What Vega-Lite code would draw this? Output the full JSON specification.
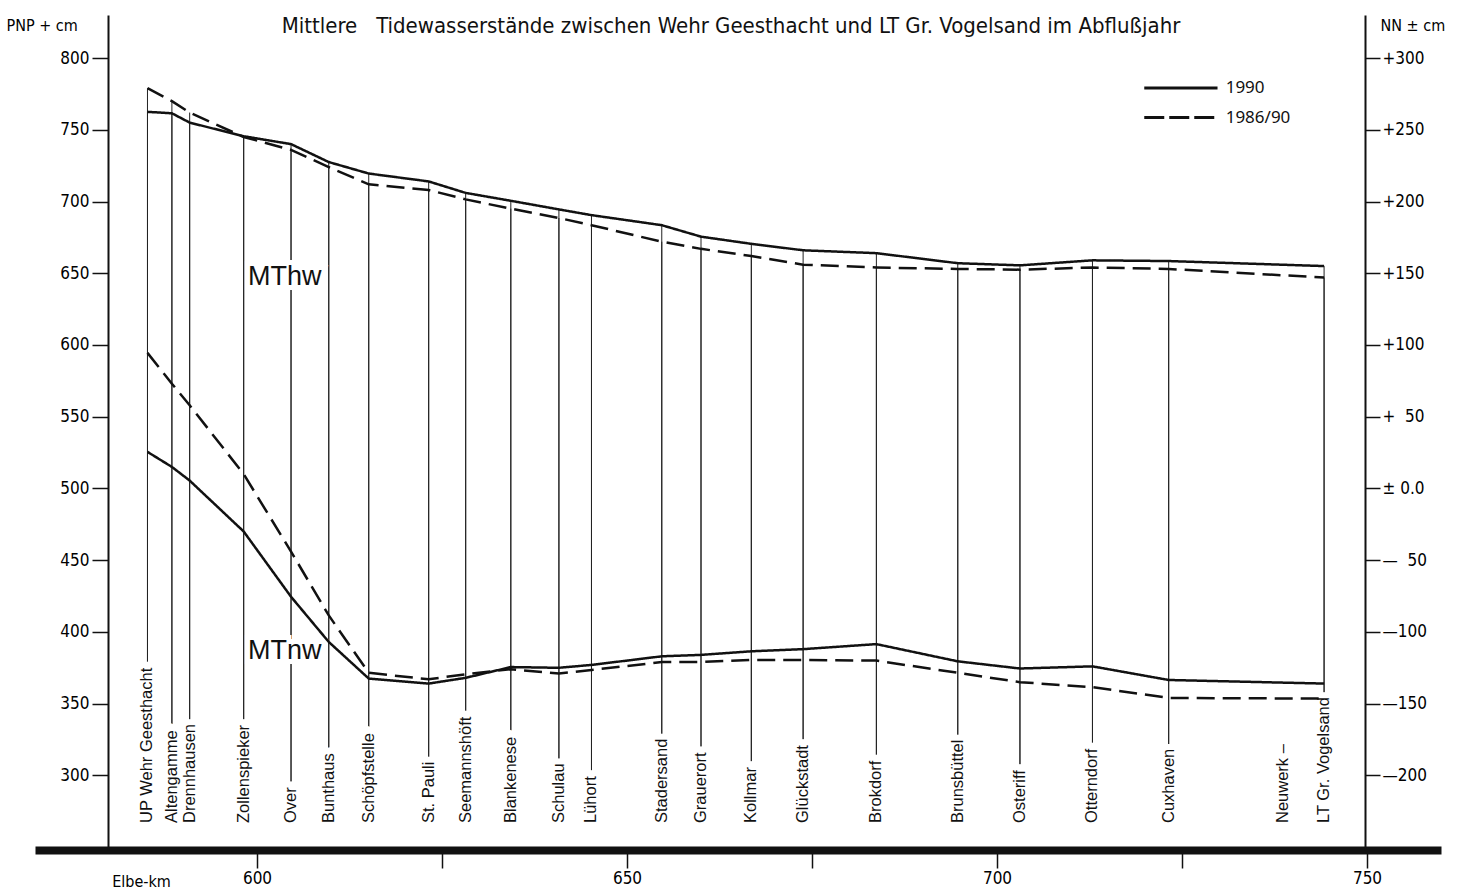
{
  "$schema": "https://vega.github.io/schema/vega-lite/v6.json",
  "width": 1406,
  "height": 835,
  "autosize": {"type": "none"},
  "padding": {"left": 35, "top": 15, "right": 32, "bottom": 40},
  "background": "white",
  "title": {
    "text": "Mittlere\u00a0\u00a0\u00a0Tidewasserstände zwischen Wehr Geesthacht und LT Gr. Vogelsand im Abflußjahr",
    "font": "DejaVu Sans Condensed",
    "fontSize": 22,
    "fontWeight": "normal",
    "color": "#111",
    "anchor": "middle",
    "baseline": "alphabetic",
    "offset": -40,
    "dx": -7
  },
  "config": {
    "view": {"stroke": null},
    "font": "Liberation Sans"
  },
  "resolve": {"axis": {"y": "independent"}},
  "datasets": {
    "stations": [
      {"name": "UP Wehr Geesthacht", "km": 585.2},
      {"name": "Altengamme", "km": 588.5},
      {"name": "Drennhausen", "km": 590.9},
      {"name": "Zollenspieker", "km": 598.2},
      {"name": "Over", "km": 604.6},
      {"name": "Bunthaus", "km": 609.7},
      {"name": "Schöpfstelle", "km": 615.1},
      {"name": "St. Pauli", "km": 623.2},
      {"name": "Seemannshöft", "km": 628.2},
      {"name": "Blankenese", "km": 634.3},
      {"name": "Schulau", "km": 640.8},
      {"name": "Lühort", "km": 645.2},
      {"name": "Stadersand", "km": 654.7},
      {"name": "Grauerort", "km": 660.0},
      {"name": "Kollmar", "km": 666.8},
      {"name": "Glückstadt", "km": 673.8},
      {"name": "Brokdorf", "km": 683.7},
      {"name": "Brunsbüttel", "km": 694.7},
      {"name": "Osteriff", "km": 703.1},
      {"name": "Otterndorf", "km": 712.9},
      {"name": "Cuxhaven", "km": 723.2},
      {"name": "Neuwerk –", "km": 738.6},
      {"name": "LT Gr. Vogelsand", "km": 744.2}
    ],
    "levels": [
      {"name": "UP Wehr Geesthacht", "km": 585.2, "period": "1990", "hw": 762.5, "nw": 525.5},
      {"name": "Altengamme", "km": 588.5, "period": "1990", "hw": 761.5, "nw": 515},
      {"name": "Drennhausen", "km": 590.9, "period": "1990", "hw": 755, "nw": 505.5},
      {"name": "Zollenspieker", "km": 598.2, "period": "1990", "hw": 745.5, "nw": 470},
      {"name": "Over", "km": 604.6, "period": "1990", "hw": 740, "nw": 424.5},
      {"name": "Bunthaus", "km": 609.7, "period": "1990", "hw": 727.5, "nw": 393},
      {"name": "Schöpfstelle", "km": 615.1, "period": "1990", "hw": 719.5, "nw": 367.5},
      {"name": "St. Pauli", "km": 623.2, "period": "1990", "hw": 714, "nw": 364},
      {"name": "Seemannshöft", "km": 628.2, "period": "1990", "hw": 706, "nw": 368},
      {"name": "Blankenese", "km": 634.3, "period": "1990", "hw": 700.5, "nw": 375.5},
      {"name": "Schulau", "km": 640.8, "period": "1990", "hw": 694.5, "nw": 375},
      {"name": "Lühort", "km": 645.2, "period": "1990", "hw": 690.5, "nw": 377},
      {"name": "Stadersand", "km": 654.7, "period": "1990", "hw": 683.5, "nw": 383},
      {"name": "Grauerort", "km": 660.0, "period": "1990", "hw": 675.5, "nw": 384},
      {"name": "Kollmar", "km": 666.8, "period": "1990", "hw": 670.5, "nw": 386.5},
      {"name": "Glückstadt", "km": 673.8, "period": "1990", "hw": 666, "nw": 388},
      {"name": "Brokdorf", "km": 683.7, "period": "1990", "hw": 664, "nw": 391.5},
      {"name": "Brunsbüttel", "km": 694.7, "period": "1990", "hw": 657, "nw": 379.5},
      {"name": "Osteriff", "km": 703.1, "period": "1990", "hw": 655.5, "nw": 374.5},
      {"name": "Otterndorf", "km": 712.9, "period": "1990", "hw": 659, "nw": 376},
      {"name": "Cuxhaven", "km": 723.2, "period": "1990", "hw": 658.5, "nw": 366.5},
      {"name": "LT Gr. Vogelsand", "km": 744.2, "period": "1990", "hw": 655, "nw": 364},
      {"name": "UP Wehr Geesthacht", "km": 585.2, "period": "1986/90", "hw": 779, "nw": 594.5},
      {"name": "Altengamme", "km": 588.5, "period": "1986/90", "hw": 770, "nw": 573},
      {"name": "Drennhausen", "km": 590.9, "period": "1986/90", "hw": 762, "nw": 558},
      {"name": "Zollenspieker", "km": 598.2, "period": "1986/90", "hw": 745, "nw": 510},
      {"name": "Over", "km": 604.6, "period": "1986/90", "hw": 736, "nw": 456},
      {"name": "Bunthaus", "km": 609.7, "period": "1986/90", "hw": 724, "nw": 411.5},
      {"name": "Schöpfstelle", "km": 615.1, "period": "1986/90", "hw": 712, "nw": 371.5},
      {"name": "St. Pauli", "km": 623.2, "period": "1986/90", "hw": 708, "nw": 367},
      {"name": "Seemannshöft", "km": 628.2, "period": "1986/90", "hw": 701.5, "nw": 370.5},
      {"name": "Blankenese", "km": 634.3, "period": "1986/90", "hw": 695, "nw": 374},
      {"name": "Schulau", "km": 640.8, "period": "1986/90", "hw": 688.5, "nw": 371},
      {"name": "Lühort", "km": 645.2, "period": "1986/90", "hw": 683.5, "nw": 373.5},
      {"name": "Stadersand", "km": 654.7, "period": "1986/90", "hw": 672, "nw": 379},
      {"name": "Grauerort", "km": 660.0, "period": "1986/90", "hw": 667, "nw": 379},
      {"name": "Kollmar", "km": 666.8, "period": "1986/90", "hw": 662, "nw": 380.5},
      {"name": "Glückstadt", "km": 673.8, "period": "1986/90", "hw": 656, "nw": 380.5},
      {"name": "Brokdorf", "km": 683.7, "period": "1986/90", "hw": 654, "nw": 380},
      {"name": "Brunsbüttel", "km": 694.7, "period": "1986/90", "hw": 653, "nw": 371.5},
      {"name": "Osteriff", "km": 703.1, "period": "1986/90", "hw": 652.5, "nw": 365},
      {"name": "Otterndorf", "km": 712.9, "period": "1986/90", "hw": 654, "nw": 361.5},
      {"name": "Cuxhaven", "km": 723.2, "period": "1986/90", "hw": 653, "nw": 354},
      {"name": "LT Gr. Vogelsand", "km": 744.2, "period": "1986/90", "hw": 647, "nw": 353.5}
    ]
  },
  "layer": [
    {
      "data": {"name": "levels"},
      "mark": {"type": "rule", "stroke": "#222", "strokeWidth": 1},
      "encoding": {
        "x": {
          "field": "km", "type": "quantitative",
          "scale": {"domain": [570, 760], "nice": false, "zero": false},
          "axis": {
            "orient": "bottom",
            "values": [600, 625, 650, 675, 700, 725, 750],
            "labelExpr": "datum.value % 50 === 0 ? datum.label : ''",
            "grid": false,
            "domainWidth": 8, "domainColor": "#111",
            "tickSize": 18, "tickWidth": 1.5, "tickColor": "#111",
            "labelFont": "DejaVu Sans Condensed",
            "labelFontSize": 17, "labelFontWeight": "normal", "labelColor": "#000", "labelPadding": 2,
            "labelFlush": false, "labelOverlap": false,
            "title": "Elbe-km",
            "titleFont": "DejaVu Sans Condensed",
            "titleFontSize": 16, "titleFontWeight": "normal", "titleColor": "#000",
            "titleX": 106, "titleY": 36, "titleAlign": "center", "titleBaseline": "alphabetic"
          }
        },
        "y": {
          "field": "hw", "type": "quantitative",
          "scale": {"domain": [248, 830], "nice": false, "zero": false},
          "axis": {
            "orient": "left", "offset": -73,
            "values": [300, 350, 400, 450, 500, 550, 600, 650, 700, 750, 800],
            "grid": false,
            "domainWidth": 2, "domainColor": "#111",
            "tickSize": 16, "tickWidth": 1.5, "tickColor": "#111",
            "labelFont": "DejaVu Sans Condensed",
            "labelFontSize": 17, "labelFontWeight": "normal", "labelColor": "#000", "labelPadding": 3,
            "labelFlush": false, "labelOverlap": false,
            "title": "PNP + cm",
            "titleFont": "DejaVu Sans Condensed",
            "titleFontSize": 16, "titleFontWeight": "normal", "titleColor": "#000",
            "titleAngle": 0, "titleX": -102, "titleY": 15, "titleAlign": "left", "titleBaseline": "alphabetic"
          }
        },
        "y2": {"datum": 268}
      }
    },
    {
      "data": {"name": "stations"},
      "mark": {"type": "text", "angle": 270, "align": "left", "baseline": "middle", "fontSize": 16.5, "font": "Liberation Sans", "fill": "white", "stroke": "white", "strokeWidth": 12},
      "encoding": {
        "x": {"field": "km", "type": "quantitative"},
        "y": {"datum": 266.8, "axis": null},
        "text": {"field": "name"}
      }
    },
    {
      "data": {"name": "stations"},
      "mark": {"type": "text", "angle": 270, "align": "left", "baseline": "middle", "fontSize": 16.5, "font": "Liberation Sans", "fill": "#111"},
      "encoding": {
        "x": {"field": "km", "type": "quantitative"},
        "y": {"datum": 266.8, "axis": null},
        "text": {"field": "name"}
      }
    },
    {
      "data": {"values": [{}]},
      "mark": {"type": "text", "text": "MThw", "align": "left", "baseline": "alphabetic", "fontSize": 27, "font": "Liberation Sans", "fill": "white", "stroke": "white", "strokeWidth": 10},
      "encoding": {"x": {"datum": 598.8}, "y": {"datum": 641.5, "axis": null}}
    },
    {
      "data": {"values": [{}]},
      "mark": {"type": "text", "text": "MTnw", "align": "left", "baseline": "alphabetic", "fontSize": 27, "font": "Liberation Sans", "fill": "white", "stroke": "white", "strokeWidth": 10},
      "encoding": {"x": {"datum": 598.8}, "y": {"datum": 381, "axis": null}}
    },
    {
      "data": {"values": [{}]},
      "mark": {"type": "text", "text": "MThw", "align": "left", "baseline": "alphabetic", "fontSize": 27, "font": "Liberation Sans", "fill": "#111"},
      "encoding": {"x": {"datum": 598.8}, "y": {"datum": 641.5, "axis": null}}
    },
    {
      "data": {"values": [{}]},
      "mark": {"type": "text", "text": "MTnw", "align": "left", "baseline": "alphabetic", "fontSize": 27, "font": "Liberation Sans", "fill": "#111"},
      "encoding": {"x": {"datum": 598.8}, "y": {"datum": 381, "axis": null}}
    },
    {
      "data": {"name": "levels"},
      "mark": {"type": "line", "stroke": "#111", "strokeWidth": 2.5},
      "encoding": {
        "x": {"field": "km", "type": "quantitative"},
        "y": {
          "field": "hw", "type": "quantitative",
          "axis": {
            "orient": "right", "offset": -76,
            "values": [300, 350, 400, 450, 500, 550, 600, 650, 700, 750, 800],
            "labelExpr": "datum.value == 500 ? '± 0.0' : (datum.value > 500 ? (datum.value - 500 >= 100 ? '+' + (datum.value - 500) : '+\u00a0\u00a0' + (datum.value - 500)) : (500 - datum.value >= 100 ? '—' + (500 - datum.value) : '—\u00a0\u00a0' + (500 - datum.value)))",
            "grid": false,
            "domainWidth": 2, "domainColor": "#111",
            "tickSize": 15, "tickWidth": 1.5, "tickColor": "#111",
            "labelFont": "DejaVu Sans Condensed",
            "labelFontSize": 17, "labelFontWeight": "normal", "labelColor": "#000", "labelPadding": 2,
            "labelFlush": false, "labelOverlap": false,
            "title": "NN ± cm",
            "titleFont": "DejaVu Sans Condensed",
            "titleFontSize": 16, "titleFontWeight": "normal", "titleColor": "#000",
            "titleAngle": 0, "titleX": 15, "titleY": 15, "titleAlign": "left", "titleBaseline": "alphabetic"
          }
        },
        "strokeDash": {
          "field": "period", "type": "nominal",
          "scale": {"domain": ["1990", "1986/90"], "range": [[1, 0], [18, 8]]},
          "legend": null
        }
      }
    },
    {
      "data": {"name": "levels"},
      "mark": {"type": "line", "stroke": "#111", "strokeWidth": 2.5},
      "encoding": {
        "x": {"field": "km", "type": "quantitative"},
        "y": {"field": "nw", "type": "quantitative", "axis": null},
        "strokeDash": {"field": "period", "type": "nominal", "legend": null}
      }
    },
    {
      "data": {"values": [{}]},
      "mark": {"type": "rule", "stroke": "#111", "strokeWidth": 3},
      "encoding": {"x": {"datum": 719.9}, "x2": {"datum": 729.8}, "y": {"datum": 779.1, "axis": null}}
    },
    {
      "data": {"values": [{}]},
      "mark": {"type": "rule", "stroke": "#111", "strokeWidth": 3, "strokeDash": [20, 5]},
      "encoding": {"x": {"datum": 719.9}, "x2": {"datum": 729.8}, "y": {"datum": 758.5, "axis": null}}
    },
    {
      "data": {"values": [{}]},
      "mark": {"type": "text", "text": "1990", "align": "left", "baseline": "middle", "fontSize": 17, "font": "Noto Sans", "fill": "#111"},
      "encoding": {"x": {"datum": 730.9}, "y": {"datum": 779.1, "axis": null}}
    },
    {
      "data": {"values": [{}]},
      "mark": {"type": "text", "text": "1986/90", "align": "left", "baseline": "middle", "fontSize": 17, "font": "Noto Sans", "fill": "#111"},
      "encoding": {"x": {"datum": 730.9}, "y": {"datum": 758.5, "axis": null}}
    }
  ]
}
